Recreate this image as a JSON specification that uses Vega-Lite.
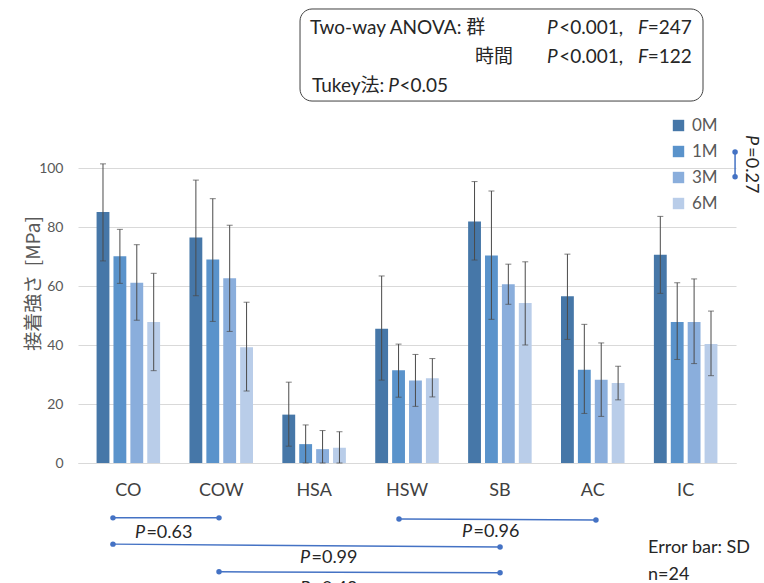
{
  "$schema": "https://vega.github.io/schema/vega-lite/v6.json",
  "width": 658,
  "height": 295,
  "autosize": {"type": "none"},
  "padding": {"left": 78, "top": 168, "right": 28, "bottom": 120},
  "background": "white",
  "config": {
    "view": {"stroke": null},
    "font": "Lato, Noto Sans CJK JP",
    "text": {"font": "Lato, Noto Sans CJK JP"}
  },
  "datasets": {
    "bars": [
      {"group": "CO", "time": "0M", "mean": 85.1, "lo": 68.5, "hi": 101.4},
      {"group": "CO", "time": "1M", "mean": 70.1, "lo": 60.9, "hi": 79.2},
      {"group": "CO", "time": "3M", "mean": 61.1, "lo": 48.4, "hi": 74.0},
      {"group": "CO", "time": "6M", "mean": 47.8, "lo": 31.3, "hi": 64.3},
      {"group": "COW", "time": "0M", "mean": 76.4, "lo": 56.7, "hi": 95.9},
      {"group": "COW", "time": "1M", "mean": 69.0, "lo": 48.0, "hi": 89.6},
      {"group": "COW", "time": "3M", "mean": 62.6, "lo": 44.6, "hi": 80.6},
      {"group": "COW", "time": "6M", "mean": 39.2, "lo": 24.4, "hi": 54.5},
      {"group": "HSA", "time": "0M", "mean": 16.4, "lo": 5.7, "hi": 27.4},
      {"group": "HSA", "time": "1M", "mean": 6.4, "lo": 0, "hi": 12.9},
      {"group": "HSA", "time": "3M", "mean": 4.7, "lo": 0, "hi": 11.0},
      {"group": "HSA", "time": "6M", "mean": 5.2, "lo": 0, "hi": 10.6},
      {"group": "HSW", "time": "0M", "mean": 45.5, "lo": 28.1, "hi": 63.4},
      {"group": "HSW", "time": "1M", "mean": 31.4, "lo": 22.3, "hi": 40.3},
      {"group": "HSW", "time": "3M", "mean": 28.0, "lo": 19.2, "hi": 36.8},
      {"group": "HSW", "time": "6M", "mean": 28.7, "lo": 22.4, "hi": 35.4},
      {"group": "SB", "time": "0M", "mean": 81.9, "lo": 68.8, "hi": 95.4},
      {"group": "SB", "time": "1M", "mean": 70.3, "lo": 48.7, "hi": 92.2},
      {"group": "SB", "time": "3M", "mean": 60.6, "lo": 53.8, "hi": 67.4},
      {"group": "SB", "time": "6M", "mean": 54.2, "lo": 40.0, "hi": 68.2},
      {"group": "AC", "time": "0M", "mean": 56.5, "lo": 41.9, "hi": 70.8},
      {"group": "AC", "time": "1M", "mean": 31.6, "lo": 16.8, "hi": 47.0},
      {"group": "AC", "time": "3M", "mean": 28.2, "lo": 15.8, "hi": 40.7},
      {"group": "AC", "time": "6M", "mean": 27.1, "lo": 21.4, "hi": 32.8},
      {"group": "IC", "time": "0M", "mean": 70.6, "lo": 57.5, "hi": 83.6},
      {"group": "IC", "time": "1M", "mean": 47.8, "lo": 35.1, "hi": 61.1},
      {"group": "IC", "time": "3M", "mean": 47.8, "lo": 33.7, "hi": 62.4},
      {"group": "IC", "time": "6M", "mean": 40.3, "lo": 29.6, "hi": 51.5}
    ],
    "segs": [
      {"u1": 0.372, "v1": -18.6, "u2": 1.5, "v2": -18.6},
      {"u1": 3.415, "v1": -19.0, "u2": 5.51, "v2": -19.3},
      {"u1": 0.372, "v1": -27.5, "u2": 4.49, "v2": -28.5},
      {"u1": 1.5, "v1": -36.9, "u2": 4.49, "v2": -37.2},
      {"u1": 6.99, "v1": 105.4, "u2": 6.99, "v2": 97.0}
    ],
    "dots": [
      {"u": 0.372, "v": -18.6}, {"u": 1.5, "v": -18.6},
      {"u": 3.415, "v": -19.0}, {"u": 5.51, "v": -19.3},
      {"u": 0.372, "v": -27.5}, {"u": 4.49, "v": -28.5},
      {"u": 1.5, "v": -36.9}, {"u": 4.49, "v": -37.2},
      {"u": 6.99, "v": 105.4}, {"u": 6.99, "v": 97.0}
    ],
    "box": [
      {"u1": 2.362, "u2": 6.649, "v1": 153.9, "v2": 122.7}
    ],
    "txt": [
      {"t": "Two-way ANOVA: 群", "u": 2.468, "v": 147.5, "it": false, "a": 0, "s": 19},
      {"t": "P", "u": 4.99, "v": 147.5, "it": true, "a": 0, "s": 19},
      {"t": "<0.001,", "u": 5.12, "v": 147.5, "it": false, "a": 0, "s": 19},
      {"t": "F", "u": 5.957, "v": 147.5, "it": true, "a": 0, "s": 19},
      {"t": "=247", "u": 6.06, "v": 147.5, "it": false, "a": 0, "s": 19},
      {"t": "時間", "u": 4.223, "v": 137.6, "it": false, "a": 0, "s": 19},
      {"t": "P", "u": 4.99, "v": 137.6, "it": true, "a": 0, "s": 19},
      {"t": "<0.001,", "u": 5.12, "v": 137.6, "it": false, "a": 0, "s": 19},
      {"t": "F", "u": 5.957, "v": 137.6, "it": true, "a": 0, "s": 19},
      {"t": "=122", "u": 6.06, "v": 137.6, "it": false, "a": 0, "s": 19},
      {"t": "Tukey法:", "u": 2.489, "v": 127.8, "it": false, "a": 0, "s": 19},
      {"t": "P", "u": 3.30, "v": 127.8, "it": true, "a": 0, "s": 19},
      {"t": "<0.05", "u": 3.42, "v": 127.8, "it": false, "a": 0, "s": 19},
      {"t": "P", "u": 0.606, "v": -23.7, "it": true, "a": 0, "s": 18},
      {"t": "=0.63", "u": 0.728, "v": -23.7, "it": false, "a": 0, "s": 18},
      {"t": "P", "u": 4.085, "v": -23.4, "it": true, "a": 0, "s": 18},
      {"t": "=0.96", "u": 4.207, "v": -23.4, "it": false, "a": 0, "s": 18},
      {"t": "P", "u": 2.362, "v": -32.2, "it": true, "a": 0, "s": 18},
      {"t": "=0.99", "u": 2.484, "v": -32.2, "it": false, "a": 0, "s": 18},
      {"t": "P", "u": 2.362, "v": -42.7, "it": true, "a": 0, "s": 18},
      {"t": "=0.48", "u": 2.484, "v": -42.7, "it": false, "a": 0, "s": 18},
      {"t": "Error bar: SD", "u": 6.064, "v": -28.8, "it": false, "a": 0, "s": 18},
      {"t": "n=24", "u": 6.064, "v": -38.0, "it": false, "a": 0, "s": 18},
      {"t": "P", "u": 7.16, "v": 111.2, "it": true, "a": 90, "s": 18},
      {"t": "=0.27", "u": 7.16, "v": 107.0, "it": false, "a": 90, "s": 18}
    ]
  },
  "resolve": {"scale": {"x": "independent", "y": "independent"}},
  "layer": [
    {
      "data": {"name": "bars"},
      "encoding": {
        "x": {
          "field": "group", "type": "nominal",
          "sort": ["CO", "COW", "HSA", "HSW", "SB", "AC", "IC"],
          "scale": {"paddingInner": 0.316},
          "title": null,
          "axis": {
            "labelAngle": 0, "labelFontSize": 18, "labelColor": "#404040",
            "ticks": false, "domainColor": "#d9d9d9", "labelPadding": 18,
            "labelFont": "Lato"
          }
        },
        "xOffset": {
          "field": "time", "type": "nominal",
          "sort": ["0M", "1M", "3M", "6M"],
          "scale": {"paddingInner": 0.24, "paddingOuter": 0}
        }
      },
      "layer": [
        {
          "mark": {"type": "bar"},
          "encoding": {
            "y": {
              "field": "mean", "type": "quantitative",
              "scale": {"domain": [0, 100], "nice": false},
              "title": "接着強さ\u00a0 [MPa]",
              "axis": {
                "values": [0, 20, 40, 60, 80, 100],
                "domain": false, "ticks": false, "labelPadding": 15,
                "labelFontSize": 14, "labelColor": "#595959",
                "gridColor": "#d9d9d9", "labelFont": "Lato",
                "titleFontSize": 19, "titleColor": "#595959",
                "titleFontWeight": "normal", "titleFont": "Noto Sans CJK JP",
                "titleX": -45, "titleY": 115, "titleAngle": -90,
                "titleAlign": "center", "titleBaseline": "middle"
              }
            },
            "color": {
              "field": "time", "type": "nominal",
              "sort": ["0M", "1M", "3M", "6M"],
              "scale": {"domain": ["0M", "1M", "3M", "6M"], "range": ["#4677A8", "#5A93CB", "#8AAEDC", "#B9CDE9"]},
              "legend": {
                "title": null, "orient": "none", "legendX": 592, "legendY": -51,
                "symbolType": "square", "symbolSize": 130, "symbolStrokeWidth": 0,
                "labelFontSize": 17, "labelColor": "#595959", "labelFont": "Lato",
                "rowPadding": 8, "padding": 0, "labelOffset": 5
              }
            }
          }
        },
        {
          "mark": {"type": "rule", "color": "#4a4a4a", "strokeWidth": 1},
          "encoding": {
            "y": {"field": "lo", "type": "quantitative"},
            "y2": {"field": "hi"}
          }
        },
        {
          "mark": {"type": "tick", "color": "#4a4a4a", "size": 6, "thickness": 1, "orient": "horizontal"},
          "encoding": {"y": {"field": "hi", "type": "quantitative"}}
        },
        {
          "mark": {"type": "tick", "color": "#4a4a4a", "size": 6, "thickness": 1, "orient": "horizontal"},
          "encoding": {"y": {"field": "lo", "type": "quantitative"}}
        }
      ]
    },
    {
      "data": {"name": "box"},
      "mark": {"type": "rect", "fill": "white", "fillOpacity": 0, "stroke": "#404040", "strokeWidth": 1, "cornerRadius": 12},
      "encoding": {
        "x": {"field": "u1", "type": "quantitative", "scale": {"domain": [0, 7], "nice": false, "zero": false}, "axis": null},
        "x2": {"field": "u2"},
        "y": {"field": "v1", "type": "quantitative", "scale": {"domain": [0, 100], "nice": false}, "axis": null},
        "y2": {"field": "v2"}
      }
    },
    {
      "data": {"name": "segs"},
      "mark": {"type": "rule", "color": "#4472C4", "strokeWidth": 1.5},
      "encoding": {
        "x": {"field": "u1", "type": "quantitative", "scale": {"domain": [0, 7], "nice": false, "zero": false}, "axis": null},
        "x2": {"field": "u2"},
        "y": {"field": "v1", "type": "quantitative", "scale": {"domain": [0, 100], "nice": false}, "axis": null},
        "y2": {"field": "v2"}
      }
    },
    {
      "data": {"name": "dots"},
      "mark": {"type": "circle", "color": "#4472C4", "size": 30, "opacity": 1},
      "encoding": {
        "x": {"field": "u", "type": "quantitative", "scale": {"domain": [0, 7], "nice": false, "zero": false}, "axis": null},
        "y": {"field": "v", "type": "quantitative", "scale": {"domain": [0, 100], "nice": false}, "axis": null}
      }
    },
    {
      "data": {"name": "txt"},
      "transform": [{"filter": "!datum.it"}],
      "mark": {"type": "text", "align": "left", "baseline": "middle", "color": "#262626", "font": "Lato, Noto Sans CJK JP"},
      "encoding": {
        "x": {"field": "u", "type": "quantitative", "scale": {"domain": [0, 7], "nice": false, "zero": false}, "axis": null},
        "y": {"field": "v", "type": "quantitative", "scale": {"domain": [0, 100], "nice": false}, "axis": null},
        "text": {"field": "t"},
        "size": {"field": "s", "type": "quantitative", "scale": null},
        "angle": {"field": "a", "type": "quantitative", "scale": null}
      }
    },
    {
      "data": {"name": "txt"},
      "transform": [{"filter": "datum.it"}],
      "mark": {"type": "text", "align": "left", "baseline": "middle", "fontStyle": "italic", "color": "#262626", "font": "Lato"},
      "encoding": {
        "x": {"field": "u", "type": "quantitative", "scale": {"domain": [0, 7], "nice": false, "zero": false}, "axis": null},
        "y": {"field": "v", "type": "quantitative", "scale": {"domain": [0, 100], "nice": false}, "axis": null},
        "text": {"field": "t"},
        "size": {"field": "s", "type": "quantitative", "scale": null},
        "angle": {"field": "a", "type": "quantitative", "scale": null}
      }
    }
  ]
}
